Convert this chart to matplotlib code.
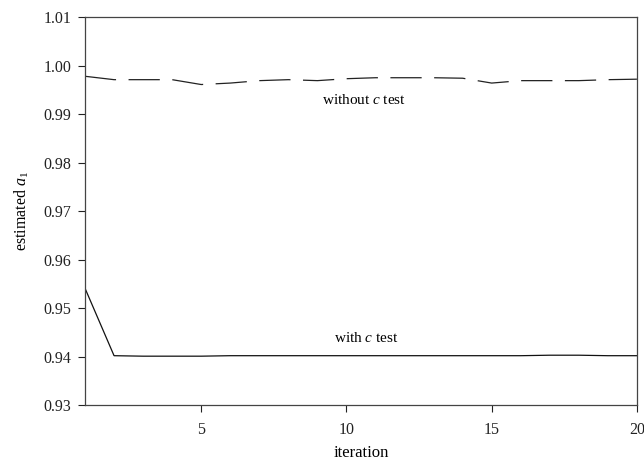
import matplotlib
matplotlib.use("Agg")
import matplotlib.pyplot as plt

plt.rcParams['font.family'] = ['Liberation Serif', 'DejaVu Serif']
plt.rcParams['mathtext.fontset'] = 'custom'
plt.rcParams['mathtext.rm'] = 'Liberation Serif'
plt.rcParams['mathtext.it'] = 'Liberation Serif:italic'

iterations = list(range(1, 21))
without_c = [0.9978, 0.9971, 0.9971, 0.9971, 0.9961, 0.9964, 0.9969, 0.9971, 0.9969, 0.9973,
             0.9975, 0.9975, 0.9975, 0.9974, 0.9964, 0.9969, 0.9969, 0.9969, 0.9971, 0.9972]
with_c = [0.9541, 0.9402, 0.9401, 0.9401, 0.9401, 0.9402, 0.9402, 0.9402, 0.9402, 0.9402,
          0.9402, 0.9402, 0.9402, 0.9402, 0.9402, 0.9402, 0.9403, 0.9403, 0.9402, 0.9402]
yticks = [0.93, 0.94, 0.95, 0.96, 0.97, 0.98, 0.99, 1.00, 1.01]
xticks = [5, 10, 15, 20]

fig = plt.figure(figsize=(6.44, 4.62), dpi=100)
ax = fig.add_axes([0.132, 0.123, 0.857, 0.840])

ax.plot(iterations, without_c, color='#222222', lw=0.9, dashes=(25, 10))
ax.plot(iterations, with_c, color='#111111', lw=0.9)

ax.set_xlim(1, 20)
ax.set_ylim(0.93, 1.01)
ax.set_xticks(xticks)
ax.set_yticks(yticks)
ax.set_yticklabels([f"{v:.2f}" for v in yticks])
ax.tick_params(direction='out', length=5, width=0.8, colors='#222222', labelsize=11.5, pad=5)
ax.tick_params(axis='x', pad=7)
for s in ax.spines.values():
    s.set_color('#444444')
    s.set_linewidth(0.9)

ax.text(10.6, 0.9929, r'without $c$ test', ha='center', va='center', fontsize=11)
ax.text(10.7, 0.9438, r'with $c$ test', ha='center', va='center', fontsize=11)

ax.set_xlabel('iteration', fontsize=12, labelpad=5)
ax.set_ylabel(r'estimated $a_{\mathit{1}}$', fontsize=11.5, labelpad=9)

fig.savefig('out.png', dpi=100)
